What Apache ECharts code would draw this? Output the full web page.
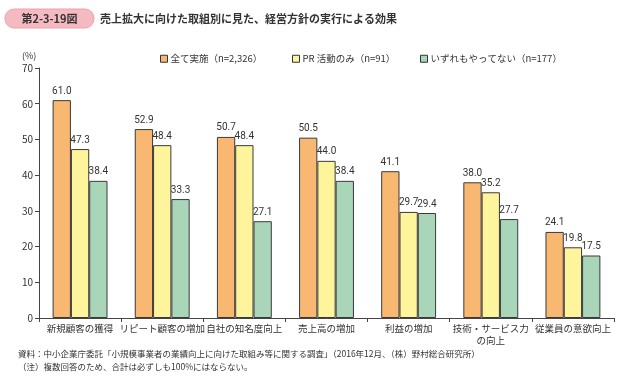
<!DOCTYPE html>
<html><head><meta charset="utf-8">
<script src="https://cdn.jsdelivr.net/npm/echarts@6/dist/echarts.min.js"></script>
<style>html,body{margin:0;padding:0;background:#fff}#c{width:621px;height:379px}</style>
</head><body><div id="c"></div>
<script>
const categories = ['新規顧客の獲得','リピート顧客の増加','自社の知名度向上','売上高の増加','利益の増加','技術・サービス力\nの向上','従業員の意欲向上'];
const seriesNames = ['全て実施（n=2,326）','PR 活動のみ（n=91）','いずれもやってない（n=177）'];
const allDone = [61.0,52.9,50.7,50.5,41.1,38.0,24.1];
const prOnly = [47.3,48.4,48.4,44.0,29.7,35.2,19.8];
const noneDone = [38.4,33.3,27.1,38.4,29.4,27.7,17.5];
const yTicks = [0,10,20,30,40,50,60,70];

const FONT = '"Noto Sans CJK JP","Noto Sans",sans-serif';
const NUMFONT = 'Roboto,"Noto Sans",sans-serif';
const colors = ['#F9B872','#FEF49B','#A9D6B9'];
const chart = echarts.init(document.getElementById('c'));
const mk = (name, data, color) => ({
  name, type:'bar', data, barWidth:18.3, barGap:'0%',
  itemStyle:{color, borderColor:'#3a3a3a', borderWidth:1},
  label:{show:true, position:'top', distance:4, color:'#333', fontSize:10, fontFamily:NUMFONT,
    formatter:p=>p.value.toFixed(1)}
});
const legendBase = (left, name) => ({top:49, left, itemWidth:7, itemHeight:7, icon:'rect',
  itemStyle:{borderColor:'#333', borderWidth:1},
  textStyle:{fontSize:9.5, color:'#333', fontFamily:FONT, padding:[0,0,0,-2]},
  data:[name]});
chart.setOption({
  animation:false,
  textStyle:{fontFamily:FONT},
  grid:{left:39, right:7, top:68, bottom:61, containLabel:false},
  legend:[legendBase(155, seriesNames[0]), legendBase(287, seriesNames[1]), legendBase(415, seriesNames[2])],
  xAxis:{type:'category', data:categories,
    axisLine:{lineStyle:{color:'#444', width:1}},
    axisTick:{show:true, length:4, lineStyle:{color:'#444'}},
    axisLabel:{fontSize:9.5, color:'#333', margin:4, lineHeight:12, interval:0, fontFamily:FONT}},
  yAxis:{type:'value', min:0, max:70, interval:10,
    axisLine:{show:true, lineStyle:{color:'#444', width:1}},
    axisTick:{show:true, length:4, lineStyle:{color:'#444'}},
    splitLine:{show:false},
    axisLabel:{fontSize:10, color:'#333', margin:6, fontFamily:FONT,
      formatter:v=>yTicks.includes(v)?String(v):''}},
  series:[mk(seriesNames[0],allDone,colors[0]), mk(seriesNames[1],prOnly,colors[1]), mk(seriesNames[2],noneDone,colors[2])],
  graphic:[
    {type:'rect', shape:{x:5, y:9, width:89, height:19, r:9}, style:{fill:'#F5BAC1', stroke:'#EBA3AD', lineWidth:1}},
    {type:'text', x:49.5, y:18.5, style:{text:'第2-3-19図', fill:'#333', font:'bold 11px '+FONT, align:'center', verticalAlign:'middle'}},
    {type:'text', x:100, y:18.5, style:{text:'売上拡大に向けた取組別に見た、経営方針の実行による効果', fill:'#333', font:'bold 11px '+FONT, verticalAlign:'middle'}},
    {type:'text', x:22, y:56, style:{text:'(%)', fill:'#333', font:'9px '+FONT, verticalAlign:'middle'}},
    {type:'text', x:18, y:354, style:{text:'資料：中小企業庁委託「小規模事業者の業績向上に向けた取組み等に関する調査」（2016年12月、（株）野村総合研究所）', fill:'#333', font:'8.5px '+FONT, verticalAlign:'middle'}},
    {type:'text', x:18, y:367, style:{text:'（注）複数回答のため、合計は必ずしも100%にはならない。', fill:'#333', font:'8.5px '+FONT, verticalAlign:'middle'}}
  ]
});
</script></body></html>
